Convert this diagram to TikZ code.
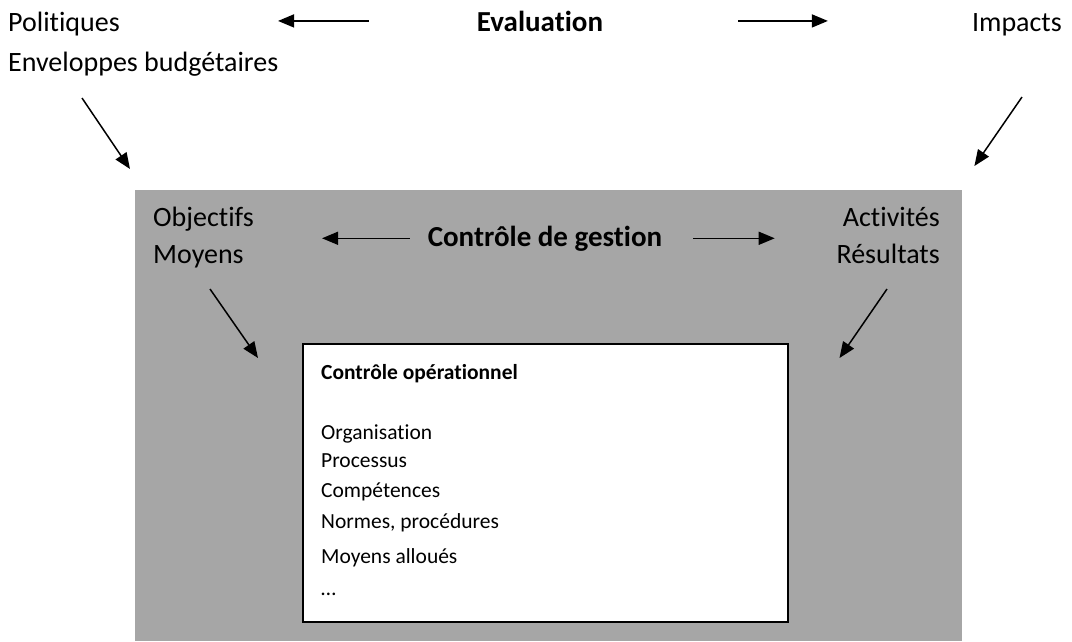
\documentclass[tikz,border=0pt]{standalone}
\usepackage{fontspec}
\setmainfont{Carlito}[Ligatures=NoCommon]
\usetikzlibrary{arrows.meta}
\definecolor{grau}{RGB}{166,166,166}

\begin{document}
\begin{tikzpicture}[x=1pt, y=-1pt,
        pfeil/.style={line width=1.5pt, -{Triangle[length=16pt,width=13pt]}},
        txt/.style={inner sep=0pt, font=\fontsize{28}{33}\selectfont},
        titel/.style={inner sep=0pt, font=\fontsize{29}{34}\selectfont\bfseries},
        liste/.style={inner sep=0pt, anchor=base west, font=\fontsize{21.5}{26}\selectfont}]
        \useasboundingbox (0,0) rectangle (1072,641);

        % Kasten
        \node[fill=grau, inner sep=0pt, minimum width=827, minimum height=451, anchor=north west] (grau) at (135,190) {};
        \node[draw, line width=1.5pt, fill=white, inner sep=0pt, minimum width=485, minimum height=278, anchor=north west] (op) at (302,343) {};

        % Evaluation
        \node[txt, anchor=base west] (pol) at (8,31) {Politiques};
        \node[txt, anchor=base west] (env) at (8,71) {Enveloppes budgétaires};
        \node[titel, anchor=base] (eval) at (540,31) {Evaluation};
        \node[txt, anchor=base east] (imp) at (1062,31) {Impacts};
        \draw[pfeil, shorten <=108pt] (eval.west) -- ([xshift=158pt]pol.east |- eval.west);
        \draw[pfeil, shorten <=135pt, shorten >=144pt] (eval.east) -- (eval.east -| imp.west);
        \draw[pfeil] ([shift={(74,27)}]env.base west) -- ([shift={(-5,-21)}]grau.north west);
        \draw[pfeil] ([shift={(-40,66)}]imp.base east) -- ([shift={(12,-24)}]grau.north east);

        % Controle de gestion
        \node[txt, anchor=base west] (obj) at (153,226) {Objectifs};
        \node[txt, anchor=base west] (moy) at (153,263) {Moyens};
        \node[titel, anchor=base] (gest) at (545,246) {Contrôle de gestion};
        \node[txt, anchor=base east] (akt) at (940,226) {Activités};
        \node[txt, anchor=base east] (res) at (940,263) {Résultats};
        \draw[pfeil, shorten <=18pt] (gest.west) -- ([xshift=68pt]obj.east |- gest.west);
        \draw[pfeil, shorten <=31pt, shorten >=68pt] (gest.east) -- (gest.east -| akt.west);
        \draw[pfeil] ([shift={(57,26)}]moy.base west) -- ([shift={(-44,15)}]op.north west);
        \draw[pfeil] ([shift={(-53,26)}]res.base east) -- ([shift={(51,15)}]op.north east);

        % Controle operationnel
        \node[liste, font=\fontsize{21.5}{26}\selectfont\bfseries] (opt) at (321,379) {Contrôle opérationnel};
        \node[liste] (org) at (321,439) {Organisation};
        \node[liste] (proz) at (321,467) {Processus};
        \node[liste] (komp) at (321,497) {Compétences};
        \node[liste] (norm) at (321,528) {Normes, procédures};
        \node[liste] (mit) at (321,563) {Moyens alloués};
        \node[liste] (etc) at (321,595) {…};
    \end{tikzpicture}
\end{document}
